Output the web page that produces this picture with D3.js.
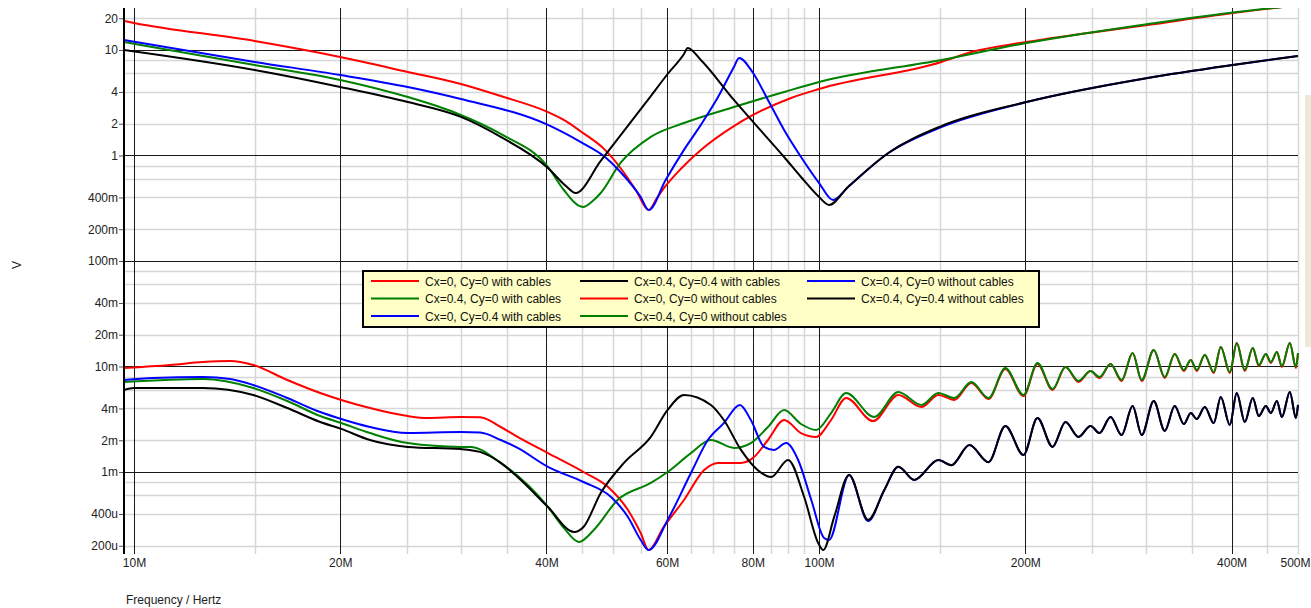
<!DOCTYPE html>
<html>
<head>
<meta charset="utf-8">
<script src="https://cdn.jsdelivr.net/npm/d3@7"></script>
<style>
  html, body { margin: 0; padding: 0; background: #fff; }
  svg { display: block; font-family: "Liberation Sans", Arial, sans-serif; }
</style>
</head>
<body>
<svg id="chart" width="1311" height="608"></svg>
<script>
// ---- Frequency response data (frequency in MHz, amplitude in volts) ----

// Cx=0, Cy=0 with cables
const fRedWith = [9.67,11.29,12.61,13.81,14.93,16.74,18.7,20.07,22.1,25.1,26.8,30,32,34.3,36.3,40.2,45.3,49.2,52.6,54.9,56.4,59.3,63.5,67.9,71.2,76.9,80.1,84.2,88.9,94.1,99.0,104.1,109.5,119.9,130.5,141,149.3,157.5,166.8,176.7,187,198.7,208.3,219.1,228.9,239.1,249,256.6,266.3,276.4,286.8,295.7,307.9,319.5,330.4,340.6,348.7,355.8,365.5,376.7,385.7,397.6,407,418.1,429.5,438.3,448.7,456.4,465.7,473.6,486.5,496.5,500];
const vRedWith = [0.00968,0.01033,0.01103,0.01127,0.01033,0.00745,0.00561,0.00482,0.00404,0.00339,0.00325,0.00332,0.00330,0.00267,0.00215,0.00151,0.00100,0.000721,0.000436,0.000264,0.000182,0.000301,0.000543,0.00104,0.00122,0.00122,0.00136,0.00201,0.00311,0.00234,0.00215,0.00311,0.00503,0.00304,0.00537,0.00413,0.00537,0.00482,0.00698,0.00492,0.00947,0.00525,0.01056,0.00599,0.00989,0.00713,0.00906,0.00778,0.01056,0.00729,0.01343,0.00729,0.01434,0.00778,0.01313,0.00906,0.01152,0.00906,0.01285,0.00868,0.01530,0.00868,0.01670,0.00906,0.01497,0.01011,0.01313,0.01079,0.01372,0.00989,0.01670,0.00968,0.01343];

// Cx=0.4, Cy=0 with cables
const fGreenWith = [9.67,12.61,14.93,16.74,18.7,20.07,22.1,25.1,30,31,34.3,40.2,42.4,44.6,46.9,50.8,56.8,60.1,65,69.5,75.1,79.5,84.2,88.9,94.1,99.0,104.1,109.5,120.3,130.5,141,149.3,157.5,166.8,176.7,187,198.7,208.3,219.1,228.9,239.1,249,256.6,266.3,276.4,286.8,295.7,307.9,319.5,330.4,340.6,348.7,355.8,365.5,376.7,385.7,397.6,407,418.1,429.5,438.3,448.7,456.4,465.7,473.6,486.5,496.5,500];
const vGreenWith = [0.00713,0.00761,0.00626,0.00471,0.00339,0.00291,0.00234,0.00188,0.00173,0.00173,0.00122,0.000466,0.000295,0.000217,0.000282,0.000543,0.000787,0.00100,0.00151,0.00201,0.00169,0.00188,0.00267,0.00387,0.00285,0.00250,0.00362,0.00561,0.00332,0.00573,0.00432,0.00561,0.00503,0.00713,0.00503,0.00968,0.00537,0.01079,0.00612,0.00989,0.00729,0.00906,0.00795,0.01056,0.00745,0.01343,0.00745,0.01434,0.00795,0.01313,0.00927,0.01152,0.00927,0.01285,0.00887,0.01530,0.00887,0.01670,0.00927,0.01497,0.01033,0.01313,0.01103,0.01372,0.01011,0.01670,0.00989,0.01343];

// Cx=0, Cy=0.4 with cables
const fBlueWith = [9.67,10.66,12.61,13.81,14.93,16.74,18.7,20.07,22.1,25.1,30,32,34.3,36.3,40.2,45.3,49.7,52.6,54.9,56.4,60.1,65,68.8,72.6,76.6,79.5,83.1,85.9,89.5,93.2,97.4,101.7,103.4,110.6,117.9,124.5,130.5,137.7,149.3,156,165.7,176.7,187,198.7,208.3,219.1,228.9,239.1,249,256.6,266.3,276.4,286.8,295.7,307.9,319.5,330.4,340.6,348.7,355.8,365.5,376.7,385.7,397.6,407,418.1,429.5,438.3,448.7,456.4,465.7,473.6,486.5,496.5,500];
const vBlueWith = [0.00745,0.00778,0.00795,0.00761,0.00668,0.00503,0.00370,0.00318,0.00267,0.00234,0.00239,0.00237,0.00201,0.00169,0.00112,0.000804,0.000579,0.000375,0.000227,0.000182,0.000351,0.000978,0.00201,0.00291,0.00432,0.00311,0.00173,0.00162,0.00188,0.00130,0.000543,0.000237,0.000227,0.000937,0.000343,0.000675,0.00112,0.000840,0.00130,0.00116,0.00180,0.00124,0.00273,0.00145,0.00325,0.00173,0.00298,0.00215,0.00273,0.00234,0.00332,0.00224,0.00422,0.00224,0.00471,0.00245,0.00422,0.00285,0.00362,0.00318,0.00413,0.00291,0.00514,0.00279,0.00561,0.00298,0.00503,0.00339,0.00422,0.00362,0.00471,0.00332,0.00573,0.00325,0.00432];

// Cx=0.4, Cy=0.4 with cables
const fBlackWith = [9.67,10,12.61,14.93,16.74,18.7,20.07,22.1,25.1,30,32,34.3,36.3,40.2,43.9,45.3,48,51.9,56.8,60.1,63.5,69.5,72.6,76.9,81.4,85.1,90.1,95.1,99.7,101.4,105.2,110.6,117.9,124.5,130.5,137.7,149.3,156,165.7,176.7,187,198.7,208.3,219.1,228.9,239.1,249,256.6,266.3,276.4,286.8,295.7,307.9,319.5,330.4,340.6,348.7,355.8,365.5,376.7,385.7,397.6,407,418.1,429.5,438.3,448.7,456.4,465.7,473.6,486.5,496.5,500];
const vBlackWith = [0.00599,0.00626,0.00626,0.00537,0.00404,0.00298,0.00256,0.00201,0.00173,0.00165,0.00155,0.00122,0.000897,0.000466,0.000270,0.000301,0.000632,0.00122,0.00215,0.00387,0.00537,0.00432,0.00311,0.00162,0.00104,0.000897,0.00130,0.000579,0.000212,0.000182,0.000375,0.000937,0.000351,0.000675,0.00112,0.000840,0.00130,0.00116,0.00180,0.00124,0.00273,0.00145,0.00325,0.00173,0.00298,0.00215,0.00273,0.00234,0.00332,0.00224,0.00422,0.00224,0.00471,0.00245,0.00422,0.00285,0.00362,0.00318,0.00413,0.00291,0.00514,0.00279,0.00561,0.00298,0.00503,0.00339,0.00422,0.00362,0.00471,0.00332,0.00573,0.00325,0.00432];

// Cx=0, Cy=0 without cables
const fRedWithout = [9.67,10,15,20,25.1,30,34.3,40.2,42.7,44.9,48.7,51.3,54,56.4,58.0,59.7,62.8,67.2,75.1,80.1,91,100,150.8,166.8,200.7,301.7,401.6,500];
const vRedWithout = [18.84,18.03,12.17,8.58,6.19,4.76,3.66,2.58,2.12,1.69,1.13,0.761,0.471,0.304,0.396,0.514,0.745,1.127,1.90,2.42,3.51,4.27,7.70,9.57,11.91,17.26,22.4,26.5];

// Cx=0.4, Cy=0 without cables (green)
const fGreenWithout = [9.67,15,20,25.1,29.5,34.3,40.2,42.4,45.2,46.9,48,51.3,56.8,63.5,75.1,88.9,100,150.8,200.7,301.7,401.6,500];
const vGreenWithout = [11.91,7.21,5.20,3.58,2.53,1.60,0.778,0.471,0.325,0.379,0.441,0.849,1.50,2.03,2.88,4.00,4.97,8.04,11.65,17.63,22.68,26.5];

// Cx=0.4, Cy=0 without cables (blue)
const fBlueWithout = [9.67,15,20,25.1,30,40.2,44.9,48.7,51.3,54.9,56.4,59.7,63.5,67.2,71.2,75.1,76.4,80.1,84.2,88.9,94.1,100,104.8,110.2,126.2,150.8,200.7,301.7,401.6,500];
const vBlueWithout = [12.44,7.70,5.79,4.46,3.43,1.95,1.34,0.968,0.698,0.404,0.304,0.586,1.13,1.95,3.58,6.90,8.40,6.05,3.36,1.745,0.968,0.548,0.379,0.503,1.056,1.86,3.21,5.43,7.21,8.77];

// Cx=0.4, Cy=0.4 without cables
const fBlackWithout = [9.67,15,20,25.1,30,34.3,40.2,42.7,44.1,48,51.9,56.8,60.1,63.5,64.3,67.2,75.1,80.1,88.9,94.1,100,103.4,110.2,126.2,150.8,200.7,301.7,401.6,500];
const vBlackWithout = [10.0,6.46,4.46,3.21,2.32,1.50,0.761,0.514,0.441,0.887,1.707,3.66,5.92,9.17,10.45,8.04,3.36,2.08,0.968,0.625,0.404,0.340,0.503,1.056,1.90,3.21,5.43,7.21,8.77];

// Legend labels and colours, in series order
const seriesLabels = [
  "Cx=0, Cy=0 with cables",
  "Cx=0.4, Cy=0 with cables",
  "Cx=0, Cy=0.4 with cables",
  "Cx=0.4, Cy=0.4 with cables",
  "Cx=0, Cy=0 without cables",
  "Cx=0.4, Cy=0 without cables",
  "Cx=0.4, Cy=0 without cables",
  "Cx=0.4, Cy=0.4 without cables"
];
const seriesColors = ["#ff0000","#008000","#0000ff","#000000","#ff0000","#008000","#0000ff","#000000"];

// Axis ticks
const xTickValues = [10,20,40,60,80,100,200,400,500];
const xTickLabels = ["10M","20M","40M","60M","80M","100M","200M","400M","500M"];
const xMajorGrid = [10,20,40,60,80,100,200,400];
const xMinorGrid = [15,25,30,35,45,50,55,65,70,75,85,90,95,150,250,300,350,450,500];

const yTickValues = [20,10,4,2,1,0.4,0.2,0.1,0.04,0.02,0.01,0.004,0.002,0.001,0.0004,0.0002];
const yTickLabels = ["20","10","4","2","1","400m","200m","100m","40m","20m","10m","4m","2m","1m","400u","200u"];
const yMajorGrid = [10,1,0.1,0.01,0.001];
const yMinorGrid = [20,8,6,4,2,0.8,0.6,0.4,0.2,0.08,0.06,0.04,0.02,0.008,0.006,0.004,0.002,0.0008,0.0006,0.0004,0.0002];

// ---- Drawing ----
const series = [
  [fRedWith, vRedWith], [fGreenWith, vGreenWith], [fBlueWith, vBlueWith], [fBlackWith, vBlackWith],
  [fRedWithout, vRedWithout], [fGreenWithout, vGreenWithout], [fBlueWithout, vBlueWithout], [fBlackWithout, vBlackWithout]
].map(([f, v], i) => ({ color: seriesColors[i], label: seriesLabels[i], points: f.map((d, j) => [d, v[j]]) }));

const svg = d3.select("#chart");
const plot = { left: 124, right: 1298, top: 8, bottom: 554 };

const x = d3.scaleLog().domain([9.67, 500]).range([plot.left, plot.right]);
const y = d3.scaleLog().domain([1.67e-4, 25]).range([plot.bottom, plot.top]);

// side panel strip
svg.append("rect").attr("x", 1305).attr("y", 95).attr("width", 6).attr("height", 252).attr("fill", "#ece9d8");

const grid = svg.append("g");
grid.selectAll(".xmin").data(xMinorGrid).join("line")
  .attr("x1", d => Math.round(x(d)) + 0.5).attr("x2", d => Math.round(x(d)) + 0.5)
  .attr("y1", plot.top).attr("y2", plot.bottom)
  .attr("stroke", "#d6d6d6").attr("stroke-width", 1.5);
grid.selectAll(".ymin").data(yMinorGrid).join("line")
  .attr("x1", plot.left).attr("x2", plot.right)
  .attr("y1", d => Math.round(y(d)) + 0.5).attr("y2", d => Math.round(y(d)) + 0.5)
  .attr("stroke", "#d6d6d6").attr("stroke-width", 1.5);
grid.selectAll(".xmaj").data(xMajorGrid).join("line")
  .attr("x1", d => Math.round(x(d)) + 0.5).attr("x2", d => Math.round(x(d)) + 0.5)
  .attr("y1", plot.top).attr("y2", plot.bottom)
  .attr("stroke", "#1a1a1a").attr("stroke-width", 1);
grid.selectAll(".ymaj").data(yMajorGrid).join("line")
  .attr("x1", plot.left).attr("x2", plot.right)
  .attr("y1", d => Math.round(y(d)) + 0.5).attr("y2", d => Math.round(y(d)) + 0.5)
  .attr("stroke", "#1a1a1a").attr("stroke-width", 1);

// curves
svg.append("clipPath").attr("id", "plotClip").append("rect")
  .attr("x", plot.left).attr("y", plot.top)
  .attr("width", plot.right - plot.left + 1).attr("height", plot.bottom - plot.top);

const line = d3.line().x(d => x(d[0])).y(d => y(d[1])).curve(d3.curveMonotoneX);
svg.append("g").attr("clip-path", "url(#plotClip)")
  .selectAll("path").data(series).join("path")
  .attr("d", d => line(d.points))
  .attr("fill", "none")
  .attr("stroke", d => d.color)
  .attr("stroke-width", 2)
  .attr("stroke-linejoin", "round");

// y axis
const yAxis = d3.axisLeft(y).tickValues(yTickValues)
  .tickFormat((d, i) => yTickLabels[i]).tickSize(5).tickSizeOuter(0).tickPadding(1);
const gy = svg.append("g").attr("transform", `translate(${plot.left},0)`).call(yAxis);
gy.select(".domain").remove();
gy.selectAll(".tick line").attr("stroke", "#555");
gy.selectAll(".tick text").attr("font-size", 12).attr("fill", "#222")
  .attr("font-family", "'Liberation Sans', Arial, sans-serif");
svg.append("line").attr("x1", plot.left).attr("x2", plot.left)
  .attr("y1", plot.top).attr("y2", plot.bottom)
  .attr("stroke", "#000").attr("stroke-width", 2);

// x axis
const xAxis = d3.axisBottom(x).tickValues(xTickValues)
  .tickFormat((d, i) => xTickLabels[i]).tickSize(0).tickPadding(4);
const gx = svg.append("g").attr("transform", `translate(0,${plot.bottom})`).call(xAxis);
gx.select(".domain").remove();
gx.selectAll(".tick text").attr("font-size", 12).attr("fill", "#222")
  .attr("font-family", "'Liberation Sans', Arial, sans-serif");
// keep the last label inside the window
gx.selectAll(".tick text").filter((d, i) => i === xTickValues.length - 1)
  .attr("text-anchor", "end").attr("dx", 12);

// axis titles
svg.append("text").attr("transform", "translate(21,265) rotate(-90)")
  .attr("text-anchor", "middle").attr("font-size", 12).attr("fill", "#222").text("V");
svg.append("text").attr("x", 126).attr("y", 604)
  .attr("font-size", 12).attr("fill", "#222").text("Frequency / Hertz");

// legend
const legend = svg.append("g");
legend.append("rect").attr("x", 363).attr("y", 271).attr("width", 676).attr("height", 56)
  .attr("fill", "#ffffc6").attr("stroke", "#000").attr("stroke-width", 2);
const colX = [371, 580, 807];
const rowY = [281, 298.5, 316];
const items = legend.selectAll("g.item").data(series).join("g")
  .attr("transform", (d, i) => `translate(${colX[Math.floor(i / 3)]},${rowY[i % 3]})`);
items.append("line").attr("x1", 0).attr("x2", 48).attr("y1", 0).attr("y2", 0)
  .attr("stroke", d => d.color).attr("stroke-width", 2);
items.append("text").attr("x", 54).attr("y", 4.5).attr("font-size", 12).attr("fill", "#111")
  .text(d => d.label);
</script>
</body>
</html>
